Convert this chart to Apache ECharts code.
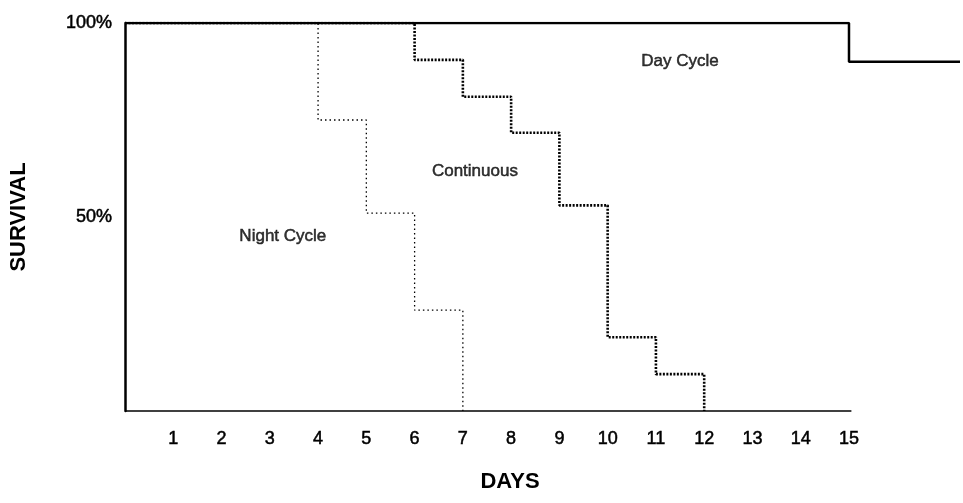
<!DOCTYPE html>
<html>
<head>
<meta charset="utf-8">
<script src="https://cdn.jsdelivr.net/npm/echarts@6/dist/echarts.min.js"></script>
<style>
html,body{margin:0;padding:0;background:#fff;}
#c{width:963px;height:503px;}
</style>
</head>
<body>
<div id="c"></div>
<script>
// Data
var nightDays = [0, 4, 5, 6, 7];
var nightSurv = [100, 75, 51, 26, 0];
var contDays = [0, 6, 7, 8, 9, 10, 11, 12];
var contSurv = [100, 90.5, 81, 71.7, 53, 19, 9.5, 0];
var dayDays = [0, 15, 17.3];
var daySurv = [100, 90, 90];
var xTicks = [1,2,3,4,5,6,7,8,9,10,11,12,13,14,15];
var yTicks = {50: '50%', 100: '100%'};
var annotations = [
  {name: 'Night Cycle', day: 3.27, surv: 45},
  {name: 'Continuous', day: 7.25, surv: 61.7},
  {name: 'Day Cycle', day: 11.5, surv: 90.2}
];

function pairs(xs, ys){ return xs.map(function(x,i){ return [x, ys[i]]; }); }

var font = '"Liberation Sans", Arial, Helvetica, sans-serif';
var heavy = {textBorderColor: '#000', textBorderWidth: 0.5};
var chart = echarts.init(document.getElementById('c'), null, {renderer:'canvas'});
chart.setOption({
  animation: false,
  backgroundColor: '#fff',
  grid: {left: 123, right: 0, top: 23, bottom: 92, containLabel: false},
  xAxis: {
    type: 'value', min: 0, max: 17.3, interval: 1,
    axisLine: {show: false}, axisTick: {show: false}, splitLine: {show: false},
    axisLabel: Object.assign({
      margin: 19, color: '#000', fontFamily: font, fontSize: 18,
      formatter: function(v){ return xTicks.indexOf(v) >= 0 ? String(v) : ''; }
    }, heavy)
  },
  yAxis: {
    type: 'value', min: 0, max: 100, interval: 50,
    axisLine: {show: true, lineStyle: {color: '#000', width: 2.5}},
    axisTick: {show: false}, splitLine: {show: false},
    axisLabel: Object.assign({
      margin: 13, color: '#000', fontFamily: font, fontSize: 18,
      formatter: function(v){ return yTicks[v] || ''; }
    }, heavy),
    name: 'SURVIVAL', nameLocation: 'middle', nameGap: 95, nameRotate: 90,
    nameTextStyle: {color: '#000', fontFamily: font, fontSize: 22, fontWeight: 'bold'}
  },
  graphic: [{
    type: 'text', x: 510, y: 482,
    style: {text: 'DAYS', fill: '#000', font: 'bold 22px ' + font, textAlign: 'center', textVerticalAlign: 'middle'}
  }],
  series: [
    {
      name: 'Night Cycle', type: 'line', step: 'end', symbol: 'none', z: 2,
      data: pairs(nightDays, nightSurv),
      lineStyle: {color: '#000', width: 1.3, type: [1.5, 3]}
    },
    {
      name: 'Continuous', type: 'line', step: 'end', symbol: 'none', z: 3,
      data: pairs(contDays, contSurv),
      lineStyle: {color: '#000', width: 2.6, type: [2, 1.5]}
    },
    {
      name: 'Day Cycle', type: 'line', step: 'end', symbol: 'none', z: 4,
      data: pairs(dayDays, daySurv),
      lineStyle: {color: '#000', width: 2.5},
      markLine: {
        symbol: 'none', silent: true, label: {show: false},
        lineStyle: {color: '#000', width: 1.6, type: 'solid'},
        data: [[{coord: [0, 0]}, {coord: [15.05, 0]}]]
      }
    },
    {
      name: 'labels', type: 'scatter', symbolSize: 0, z: 5, silent: true,
      data: annotations.map(function(a){ return {name: a.name, value: [a.day, a.surv]}; }),
      label: Object.assign({show: true, position: 'inside', formatter: '{b}', color: '#000', fontFamily: font, fontSize: 17}, heavy)
    }
  ]
});
</script>
</body>
</html>
